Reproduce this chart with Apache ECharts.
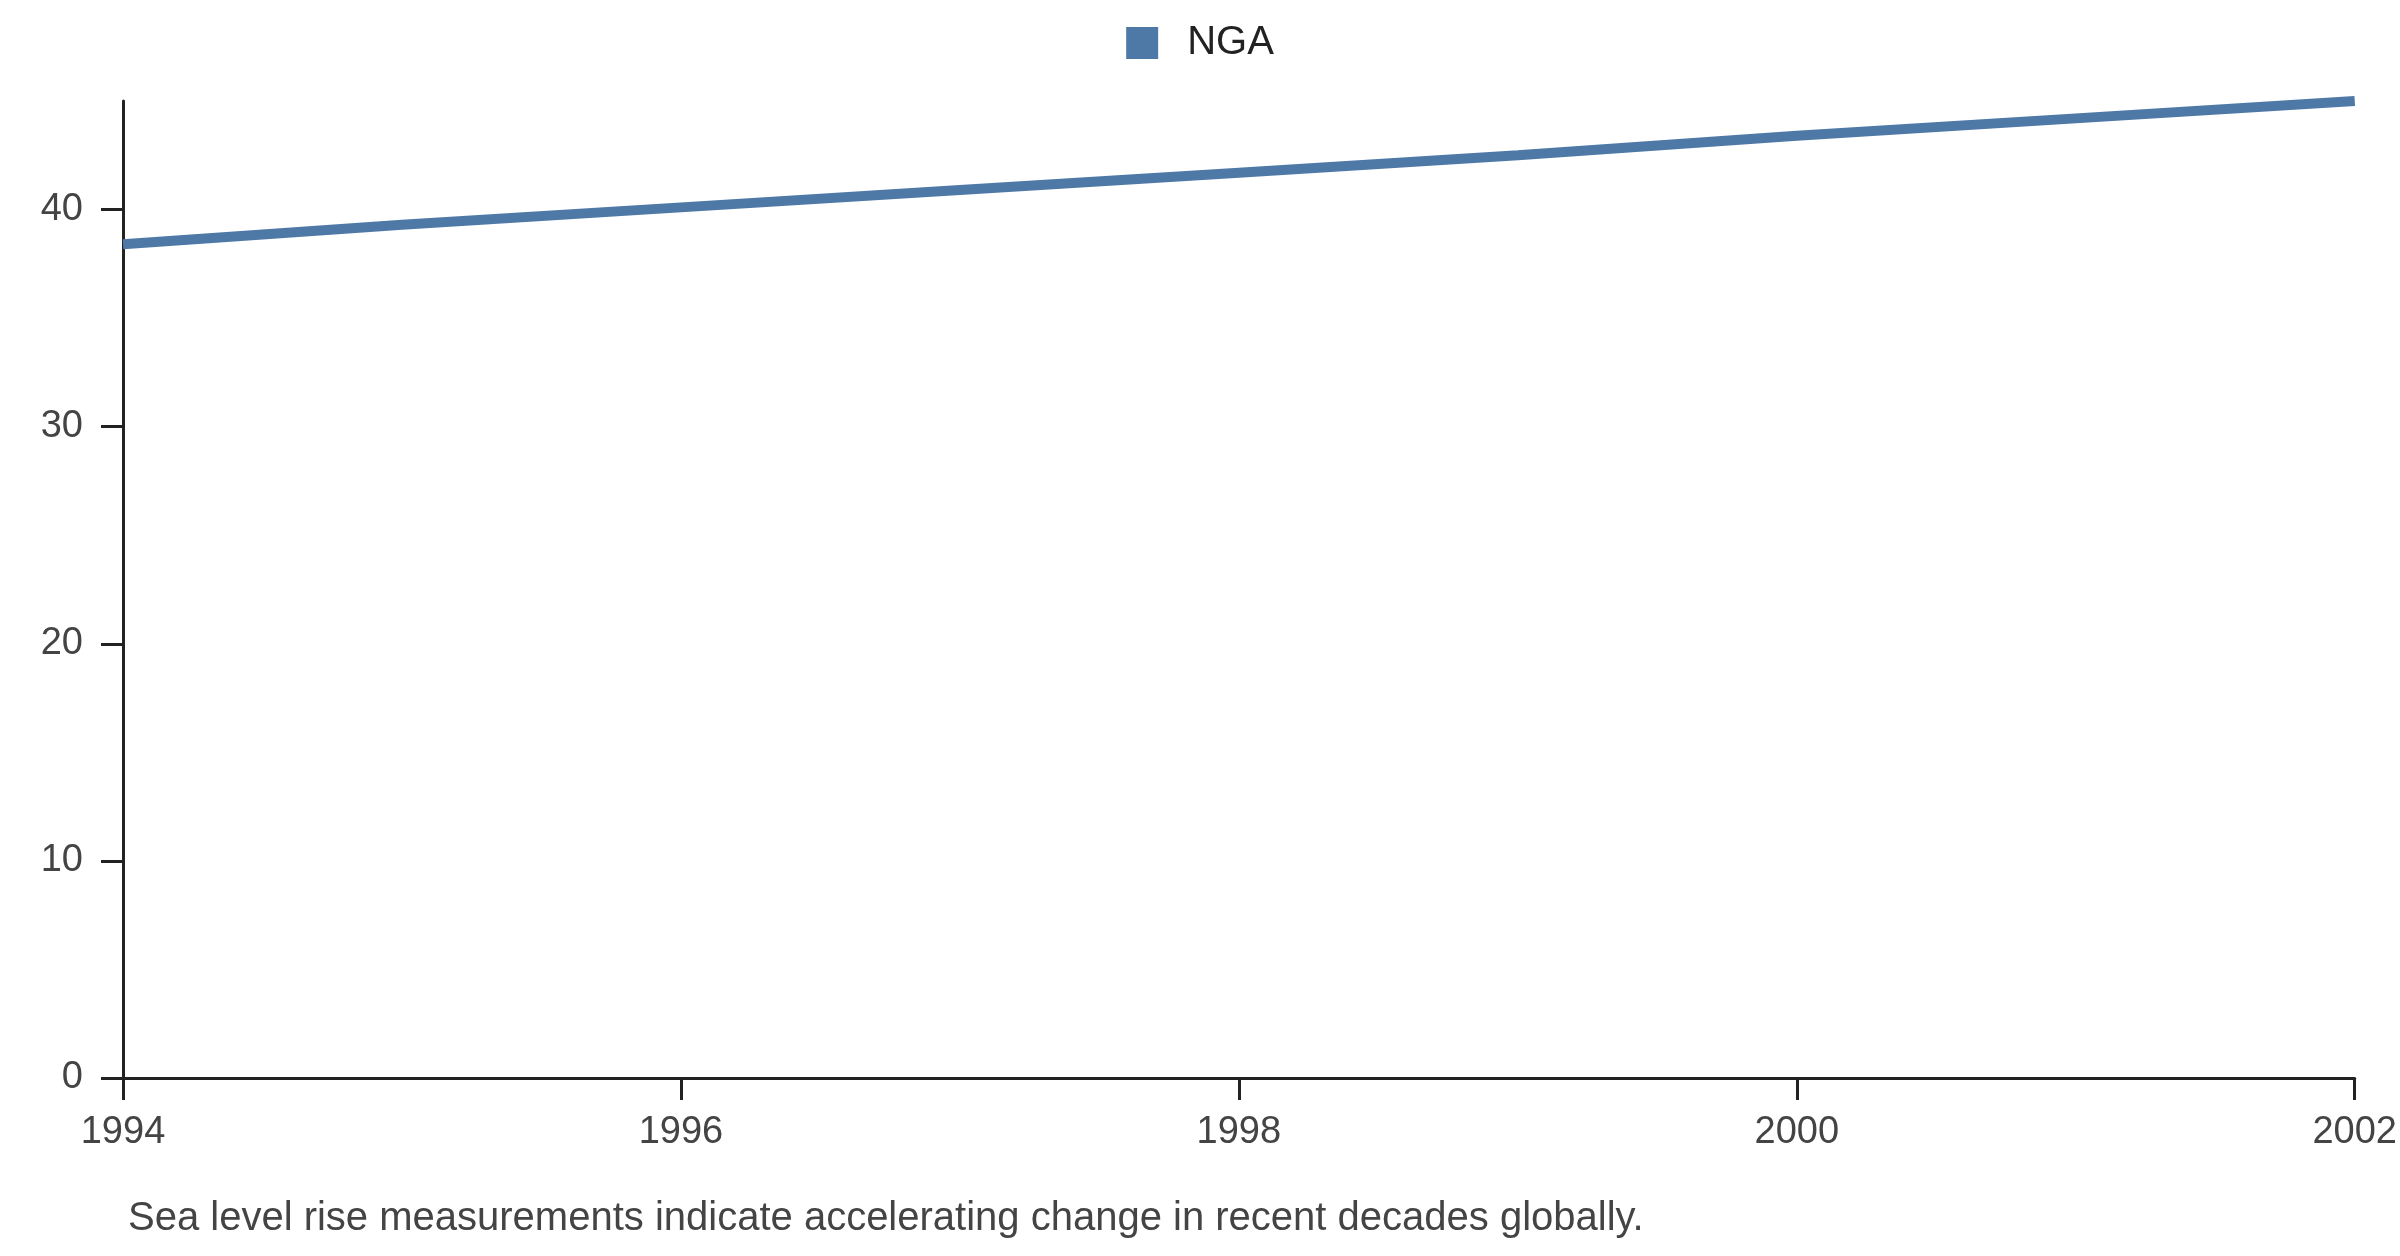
<!DOCTYPE html>
<html>
<head>
<meta charset="utf-8">
<script src="https://cdn.jsdelivr.net/npm/echarts@6/dist/echarts.min.js"></script>
<style>html,body{margin:0;padding:0;background:#fff}#chart{width:2400px;height:1256px}</style>
</head>
<body>
<div id="chart"></div>
<script>
var years = [1994, 1995, 1996, 1997, 1998, 1999, 2000, 2001, 2002];
var ngaValues = [38.4, 39.3, 40.1, 40.9, 41.7, 42.5, 43.4, 44.2, 45.0];
var caption = 'Sea level rise measurements indicate accelerating change in recent decades globally.';

var myChart = echarts.init(document.getElementById('chart'));
var option = {
  animation: false,
  textStyle: { fontFamily: 'Liberation Sans, Arial, sans-serif' },
  legend: {
    top: 18,
    left: 'center',
    itemWidth: 32, itemHeight: 32, itemGap: 20,
    icon: 'rect',
    textStyle: { fontSize: 40, color: '#222', padding: [0, 0, 0, 24] },
    data: ['NGA']
  },
  title: {
    text: caption,
    left: 123, bottom: 12,
    textStyle: { fontSize: 40, fontWeight: 'normal', color: '#444' }
  },
  grid: { left: 123, right: 28, top: 101, bottom: 178, containLabel: false },
  xAxis: {
    type: 'value', min: 1994, max: 2002, interval: 2,
    axisLine: { lineStyle: { color: '#222', width: 3 } },
    axisTick: { length: 22, lineStyle: { color: '#222', width: 3 } },
    axisLabel: { fontSize: 38, color: '#444', margin: 36, formatter: function (v) { return String(v); } },
    splitLine: { show: false }
  },
  yAxis: {
    type: 'value', min: 0, max: 45, interval: 10,
    axisLine: { show: true, lineStyle: { color: '#222', width: 3 } },
    axisTick: { show: true, length: 22, lineStyle: { color: '#222', width: 3 } },
    axisLabel: { fontSize: 38, color: '#444', margin: 40, showMaxLabel: false },
    splitLine: { show: false }
  },
  series: [{
    name: 'NGA',
    type: 'line',
    data: years.map(function (y, i) { return [y, ngaValues[i]]; }),
    showSymbol: false,
    lineStyle: { width: 10, color: '#4e79a7' },
    itemStyle: { color: '#4e79a7' }
  }]
};
myChart.setOption(option);
</script>
</body>
</html>
